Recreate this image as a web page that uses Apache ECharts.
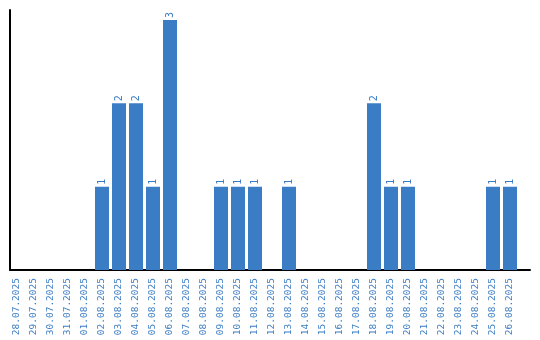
<!DOCTYPE html>
<html>
<head>
<meta charset="utf-8">
<script src="https://cdn.jsdelivr.net/npm/echarts@6/dist/echarts.min.js"></script>
<style>html,body{margin:0;padding:0;background:#fff;}#c{width:540px;height:340px;}</style>
</head>
<body>
<div id="c"></div>
<script>
const categories = ['28.07.2025','29.07.2025','30.07.2025','31.07.2025','01.08.2025','02.08.2025','03.08.2025','04.08.2025','05.08.2025','06.08.2025','07.08.2025','08.08.2025','09.08.2025','10.08.2025','11.08.2025','12.08.2025','13.08.2025','14.08.2025','15.08.2025','16.08.2025','17.08.2025','18.08.2025','19.08.2025','20.08.2025','21.08.2025','22.08.2025','23.08.2025','24.08.2025','25.08.2025','26.08.2025'];
const counts = [0,0,0,0,0,1,2,2,1,3,0,0,1,1,1,0,1,0,0,0,0,2,1,1,0,0,0,0,1,1];

const blue = '#3b7dc4';
const chart = echarts.init(document.getElementById('c'), null, {renderer:'canvas'});
chart.setOption({
  animation: false,
  grid: [
    {left: 8.5, width: 510, top: 10, bottom: 70},
    {left: 10, right: 10, top: 10, bottom: 70}
  ],
  xAxis: [
    {type: 'category', gridIndex: 0, data: categories,
     axisLine: {show: false}, axisTick: {show: false},
     axisLabel: {rotate: 90, interval: 0, margin: 8, color: blue,
                 fontFamily: 'DejaVu Sans Mono', fontSize: 9.5}},
    {type: 'value', gridIndex: 1, min: 0, max: 1,
     axisLine: {show: true, lineStyle: {color: '#000', width: 2}},
     axisTick: {show: false}, axisLabel: {show: false}, splitLine: {show: false}}
  ],
  yAxis: [
    {type: 'value', gridIndex: 0, min: 0, max: 3.12, show: false},
    {type: 'value', gridIndex: 1, min: 0, max: 1,
     axisLine: {show: true, lineStyle: {color: '#000', width: 2}},
     axisTick: {show: false}, axisLabel: {show: false}, splitLine: {show: false}}
  ],
  series: [{
    type: 'bar', xAxisIndex: 0, yAxisIndex: 0,
    data: counts, barWidth: 14,
    itemStyle: {color: blue},
    label: {show: true, position: 'top', rotate: 90, align: 'left', verticalAlign: 'middle',
            distance: 2, color: blue, fontFamily: 'DejaVu Sans Mono', fontSize: 10,
            formatter: p => p.value > 0 ? String(p.value) : ''}
  }]
});
</script>
</body>
</html>
